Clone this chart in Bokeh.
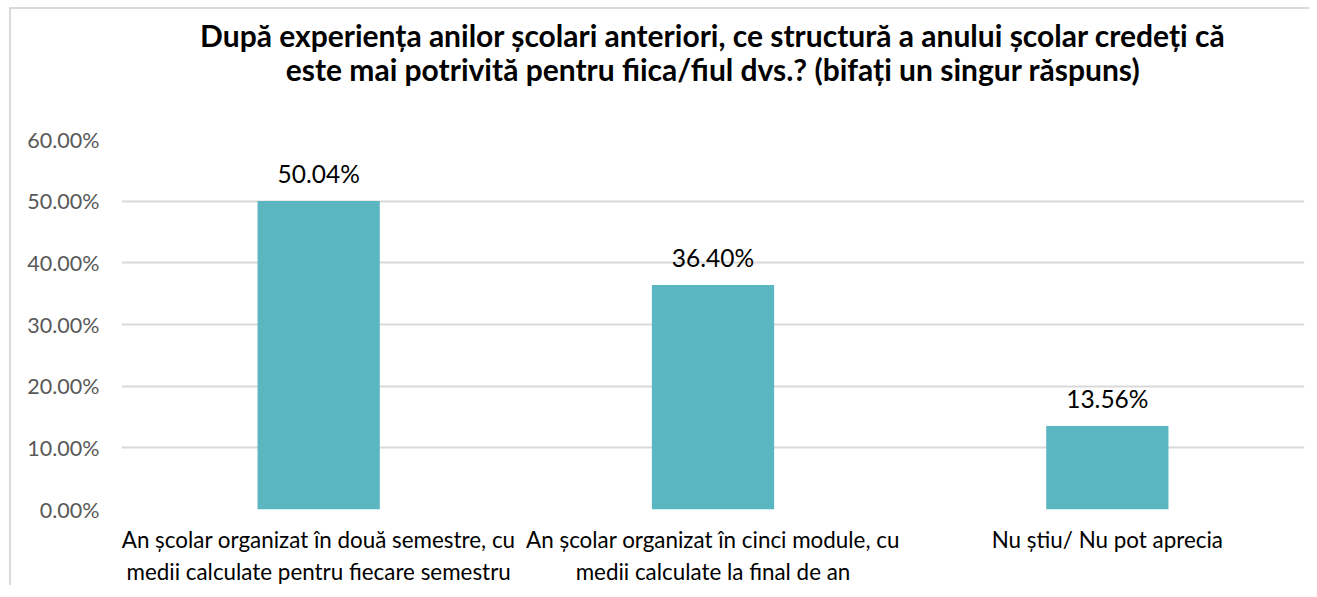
from bokeh.plotting import figure
from bokeh.models import ColumnDataSource, NumeralTickFormatter, Title, FixedTicker, Range1d
from bokeh.core.properties import value
from bokeh.embed import file_html
from bokeh.resources import INLINE

title_lines = [
    "După experiența anilor școlari anteriori, ce structură a anului școlar credeți că",
    "este mai potrivită pentru fiica/fiul dvs.? (bifați un singur răspuns)",
]
categories = [
    "An școlar organizat în două semestre, cu\nmedii calculate pentru fiecare semestru",
    "An școlar organizat în cinci module, cu\nmedii calculate la final de an",
    "Nu știu/ Nu pot aprecia",
]
values = [0.5004, 0.3640, 0.1356]
y_ticks = [0.0, 0.1, 0.2, 0.3, 0.4, 0.5, 0.6]

FONT = "Lato"
BAR = "#5AB6C0"

src = ColumnDataSource(dict(
    cat=categories,
    val=values,
    lab=[f"{v * 100:.2f}%" for v in values],
))

p = figure(
    x_range=categories,
    y_range=Range1d(0, 0.6),
    width=1300, height=578,
    output_backend="svg", toolbar_location=None,
    min_border_left=110, min_border_right=7, min_border_top=130, min_border_bottom=78,
    styles={"border-top": "2px solid #d9d9d9", "border-left": "2px solid #d9d9d9",
            "margin-left": "9px", "margin-top": "7px"},
)
p.outline_line_color = None
p.background_fill_color = "white"
p.border_fill_color = "white"

p.vbar(x="cat", top="val", width=0.31, source=src, color=BAR, line_color=None)
p.text(x="cat", y="val", text="lab", source=src, text_align="center", text_baseline="bottom",
       y_offset=-13, text_font=value(FONT), text_font_size="24.5px", text_color="#000000")

p.xgrid.grid_line_color = None
p.ygrid.grid_line_color = "#d9d9d9"
p.ygrid.grid_line_width = 2

p.yaxis.ticker = FixedTicker(ticks=y_ticks)
p.yaxis.formatter = NumeralTickFormatter(format="0.00%")
p.yaxis.axis_line_color = None
p.yaxis.major_tick_line_color = None
p.yaxis.minor_tick_line_color = None
p.yaxis.major_label_text_font = FONT
p.yaxis.major_label_text_font_size = "21.5px"
p.yaxis.major_label_text_color = "#595959"
p.yaxis.major_label_standoff = 16

p.xaxis.axis_line_color = None
p.xaxis.major_tick_line_color = None
p.xaxis.major_label_text_font = FONT
p.xaxis.major_label_text_font_size = "22.4px"
p.xaxis.major_label_text_color = "#000000"
p.xaxis.major_label_standoff = 10

# spacer between the plot frame and the two title lines (innermost panel)
p.add_layout(Title(text=" ", text_font=FONT, text_font_size="10px", text_color="white",
                   standoff=39), "above")
p.add_layout(Title(text=title_lines[1], align="center", text_font=FONT, text_font_size="30px",
                   text_font_style="bold", text_color="#000000", standoff=0), "above")
p.add_layout(Title(text=title_lines[0], align="center", text_font=FONT, text_font_size="30px",
                   text_font_style="bold", text_color="#000000", standoff=-8), "above")

open("out.html", "w").write(file_html(p, INLINE))
